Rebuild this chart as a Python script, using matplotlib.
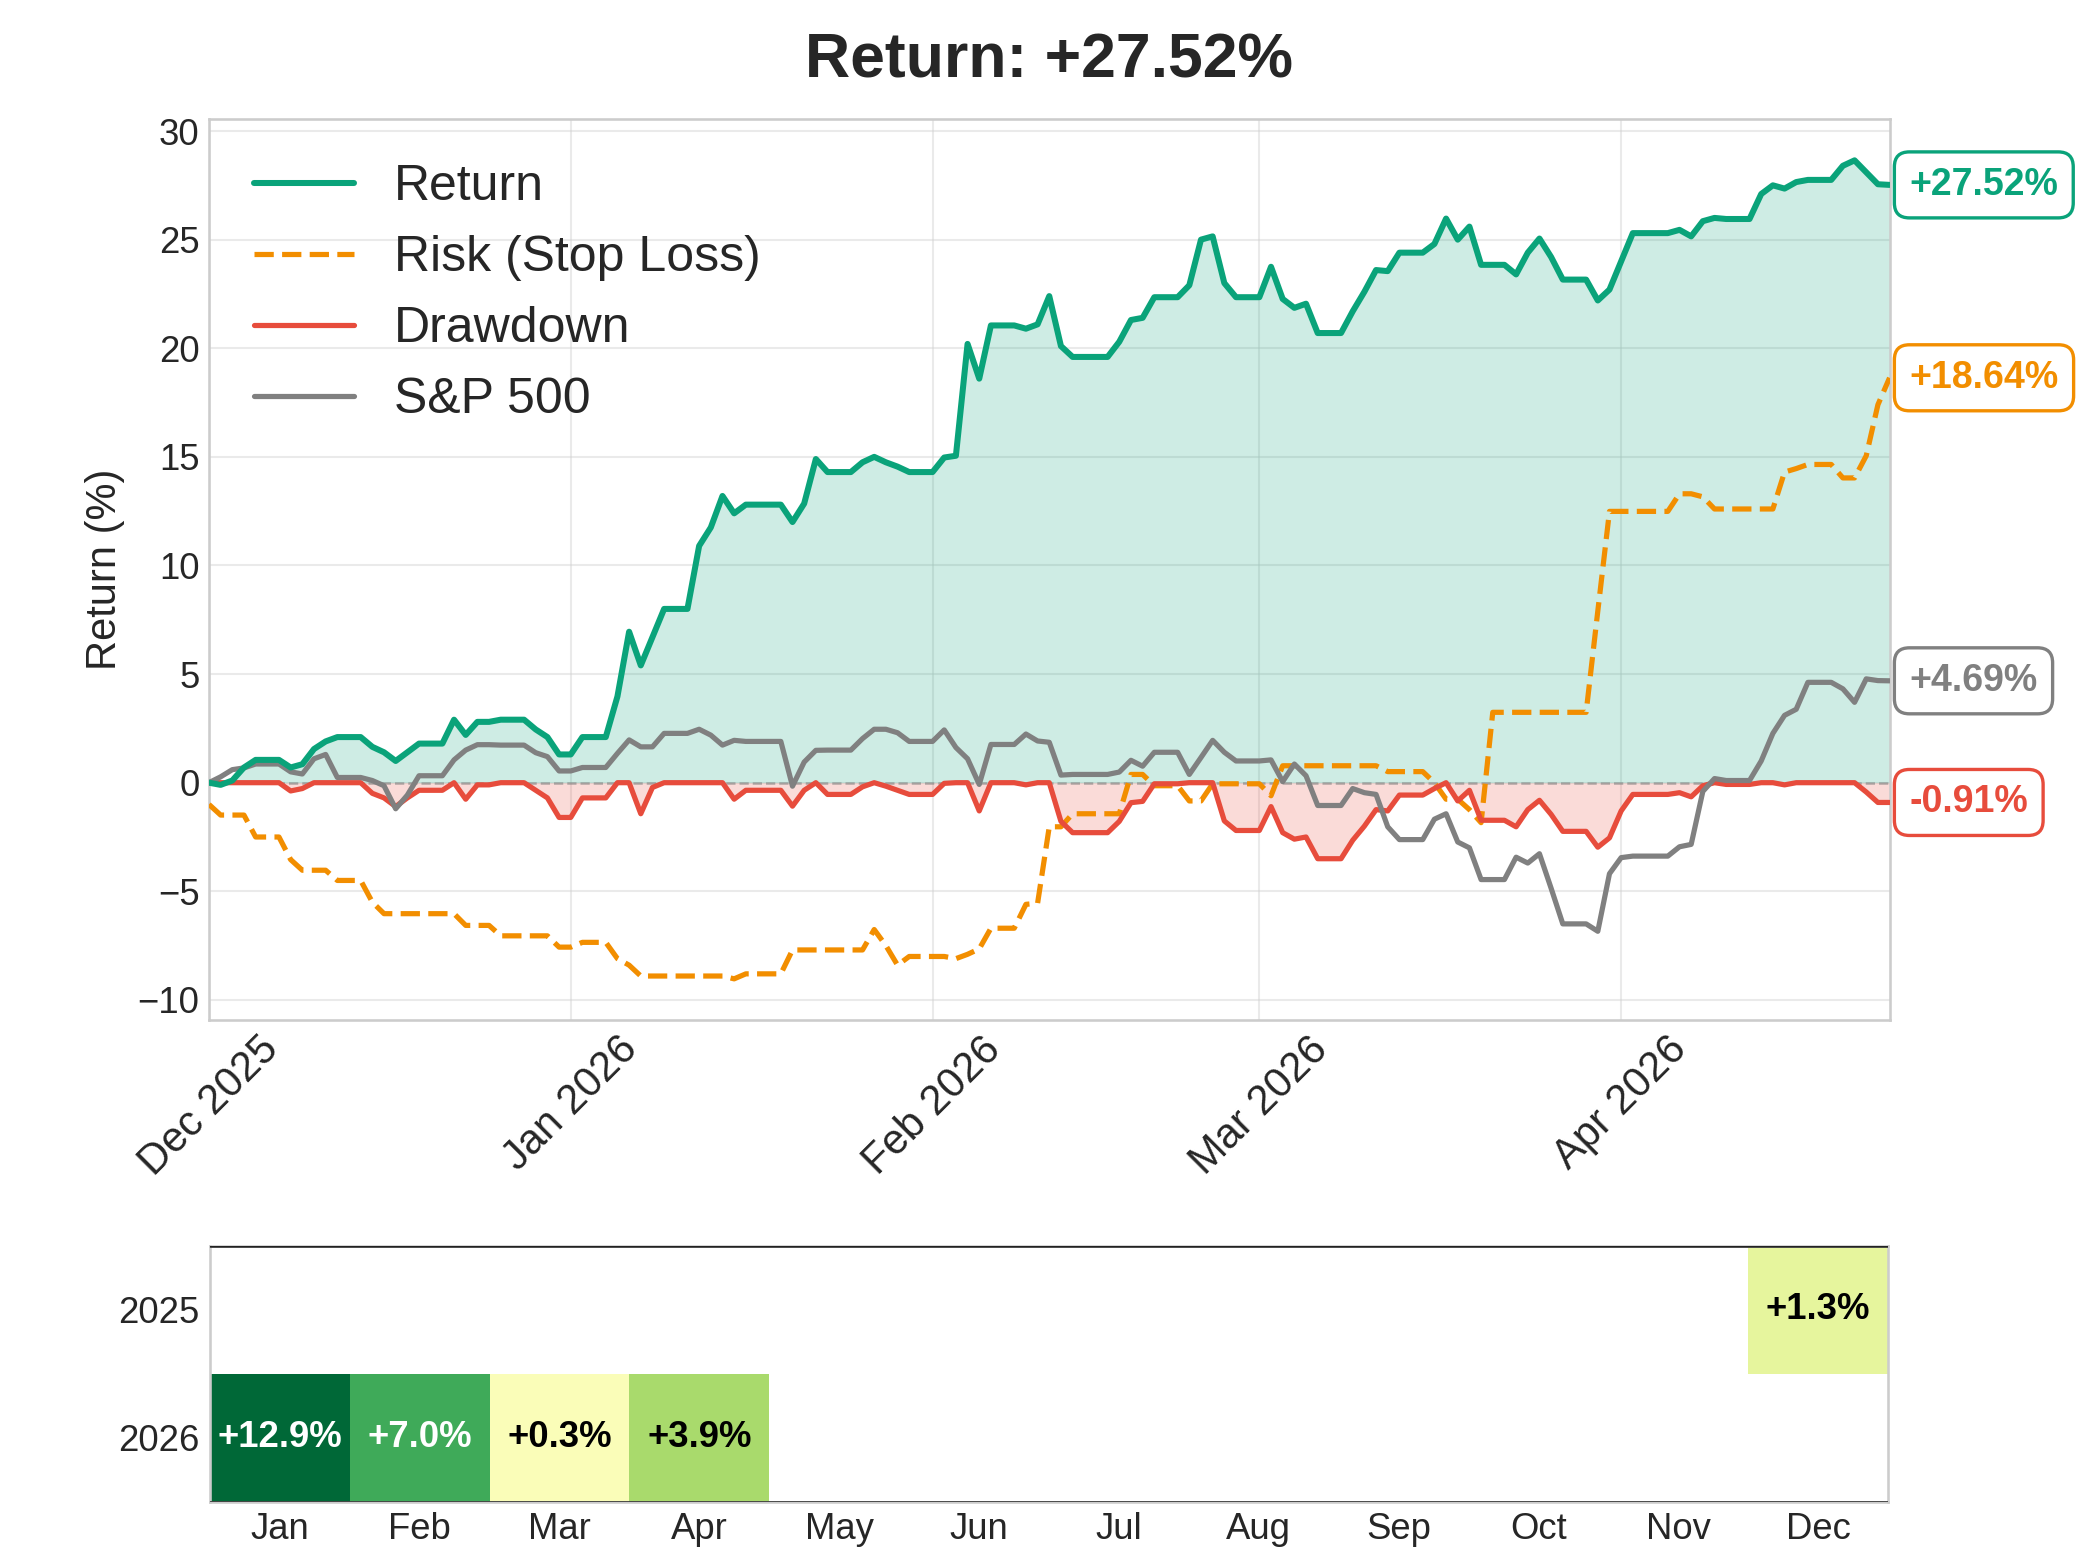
import numpy as np
import pandas as pd
import matplotlib
matplotlib.use("Agg")
import matplotlib.pyplot as plt
import matplotlib.dates as mdates
from matplotlib.ticker import MultipleLocator
import seaborn as sns

sns.set_style("whitegrid")
plt.rcParams["font.family"] = ["Liberation Sans", "DejaVu Sans"]

# ---------------- data ----------------
start_date = "2025-12-01"
end_date = "2026-04-24"

strategy_return = [
    0.0, -0.1, 0.1, 0.7, 1.05, 1.05, 1.05, 0.7, 0.85, 1.55, 1.9, 2.1, 2.1, 2.1, 1.65, 1.4,
    1.0, 1.4, 1.8, 1.8, 1.8, 2.9, 2.2, 2.8, 2.8, 2.9, 2.9, 2.9, 2.45, 2.1, 1.3,
    1.3, 2.1, 2.1, 2.1, 3.97, 6.95, 5.4, 6.7, 8.0, 8.0, 8.0, 10.9, 11.75, 13.2, 12.4, 12.8,
    12.8, 12.8, 12.8, 12.0, 12.85, 14.9, 14.3, 14.3, 14.3, 14.75, 15.0, 14.75, 14.55, 14.3, 14.3,
    14.3, 14.97, 15.05, 20.2, 18.6, 21.05, 21.05, 21.05, 20.9, 21.1, 22.4, 20.1, 19.6, 19.6,
    19.6, 19.6, 20.3, 21.3, 21.4, 22.35, 22.35, 22.35, 22.9, 25.0, 25.15, 23.0, 22.35, 22.35,
    22.35, 23.75, 22.27, 21.86, 22.05, 20.7, 20.7, 20.7, 21.7, 22.6, 23.6, 23.55, 24.4, 24.4,
    24.4, 24.8, 25.97, 25.0, 25.6, 23.84, 23.84, 23.84, 23.4, 24.4, 25.05, 24.2, 23.16, 23.16,
    23.16, 22.2, 22.7,
    24.0, 25.3, 25.3, 25.3, 25.3, 25.45, 25.15, 25.85, 26.0, 25.95, 25.95, 25.95, 27.1, 27.5,
    27.35, 27.65, 27.75, 27.75, 27.75, 28.4, 28.65, 28.1, 27.55, 27.52,
]

risk_stop_loss = [
    -1.0, -1.49, -1.49, -1.49, -2.5, -2.5, -2.5, -3.54, -4.03, -4.03, -4.03, -4.5, -4.5, -4.5,
    -5.5, -6.03, -6.03, -6.03, -6.03, -6.03, -6.03, -6.03, -6.57, -6.57, -6.57, -7.05, -7.05,
    -7.05, -7.05, -7.05, -7.57,
    -7.57, -7.35, -7.35, -7.35, -8.1, -8.4, -8.9, -8.9, -8.9, -8.9, -8.9, -8.9, -8.9, -8.9,
    -9.03, -8.8, -8.8, -8.8, -8.8, -7.7, -7.7, -7.7, -7.7, -7.7, -7.7, -7.7, -6.76, -7.5, -8.4,
    -8.0, -8.0,
    -8.0, -8.0, -8.1, -7.9, -7.65, -6.7, -6.7, -6.7, -5.6, -5.55, -2.03, -2.03, -1.43, -1.43,
    -1.43, -1.43, -1.43, 0.38, 0.38, -0.14, -0.14, -0.14, -0.84, -0.84, -0.05, -0.05, -0.05,
    -0.05,
    -0.05, -0.6, 0.78, 0.78, 0.78, 0.78, 0.78, 0.78, 0.78, 0.78, 0.78, 0.51, 0.51, 0.51, 0.51,
    0.0, -0.76, -0.76, -1.24, -1.84, 3.24, 3.24, 3.24, 3.24, 3.24, 3.24, 3.24, 3.24, 3.24, 7.9,
    12.49,
    12.49, 12.49, 12.49, 12.49, 12.49, 13.3, 13.3, 13.16, 12.6, 12.6, 12.6, 12.6, 12.6, 12.6,
    14.3, 14.46, 14.65, 14.65, 14.65, 14.03, 14.03, 15.05, 17.4, 18.64,
]

drawdown = [
    0.0, 0.0, 0.0, 0.0, 0.0, 0.0, 0.0, -0.38, -0.27, 0.0, 0.0, 0.0, 0.0, 0.0, -0.49, -0.7,
    -1.1, -0.7, -0.35, -0.35, -0.35, 0.0, -0.76, -0.1, -0.1, 0.0, 0.0, 0.0, -0.35, -0.7, -1.6,
    -1.6, -0.7, -0.7, -0.7, 0.0, 0.0, -1.43, -0.22, 0.0, 0.0, 0.0, 0.0, 0.0, 0.0, -0.76, -0.35,
    -0.35, -0.35, -0.35, -1.08, -0.35, 0.0, -0.54, -0.54, -0.54, -0.19, 0.0, -0.16, -0.35,
    -0.54, -0.54,
    -0.54, -0.03, 0.0, 0.0, -1.3, 0.0, 0.0, 0.0, -0.1, 0.0, 0.0, -1.78, -2.3, -2.3, -2.3, -2.3,
    -1.78, -0.92, -0.86, -0.05, -0.05, -0.05, 0.0, 0.0, 0.0, -1.76, -2.2, -2.2,
    -2.2, -1.1, -2.3, -2.6, -2.5, -3.5, -3.5, -3.5, -2.65, -2.0, -1.24, -1.3, -0.57, -0.57,
    -0.57, -0.27, 0.0, -0.84, -0.35, -1.73, -1.73, -1.73, -2.03, -1.24, -0.81, -1.46, -2.24,
    -2.24, -2.24, -2.97, -2.54,
    -1.3, -0.54, -0.54, -0.54, -0.54, -0.46, -0.65, -0.14, 0.0, -0.08, -0.08, -0.08, 0.0, 0.0,
    -0.1, 0.0, 0.0, 0.0, 0.0, 0.0, 0.0, -0.43, -0.91, -0.91,
]

sp500 = [
    0.0, 0.27, 0.6, 0.68, 0.86, 0.86, 0.86, 0.5, 0.4, 1.1, 1.3, 0.24, 0.24, 0.24, 0.1, -0.14,
    -1.2, -0.57, 0.32, 0.32, 0.32, 1.05, 1.5, 1.75, 1.75, 1.73, 1.73, 1.73, 1.38, 1.2, 0.54,
    0.54, 0.7, 0.7, 0.7, 1.35, 1.97, 1.65, 1.65, 2.27, 2.27, 2.27, 2.46, 2.19, 1.73, 1.95, 1.9,
    1.9, 1.9, 1.9, -0.16, 0.95, 1.49, 1.5, 1.5, 1.5, 2.03, 2.46, 2.46, 2.3, 1.9, 1.9,
    1.9, 2.43, 1.62, 1.1, -0.08, 1.76, 1.76, 1.76, 2.24, 1.92, 1.86, 0.35, 0.38, 0.38, 0.38,
    0.38, 0.49, 1.03, 0.76, 1.4, 1.4, 1.4, 0.38, 1.16, 1.95, 1.4, 1.0, 1.0,
    1.0, 1.05, 0.05, 0.86, 0.32, -1.05, -1.05, -1.05, -0.27, -0.46, -0.54, -2.03, -2.62, -2.62,
    -2.62, -1.68, -1.43, -2.73, -3.0, -4.46, -4.46, -4.46, -3.43, -3.7, -3.27, -4.86, -6.5,
    -6.5, -6.5, -6.84, -4.19,
    -3.45, -3.38, -3.38, -3.38, -3.38, -2.95, -2.84, -0.4, 0.19, 0.1, 0.1, 0.1, 1.0, 2.27, 3.1,
    3.38, 4.62, 4.62, 4.62, 4.32, 3.7, 4.78, 4.7, 4.69,
]

heatmap_years = ["2025", "2026"]
heatmap_months = ["Jan", "Feb", "Mar", "Apr", "May", "Jun",
                  "Jul", "Aug", "Sep", "Oct", "Nov", "Dec"]
monthly_2025 = [np.nan] * 11 + [1.3]
monthly_2026 = [12.9, 7.0, 0.3, 3.9] + [np.nan] * 8

# ---------------- style ----------------
GREEN = "#0aa37a"
ORANGE = "#f28e00"
RED = "#e74c3c"
GREY = "#808080"
TXT = "#262626"

dates = pd.date_range(start_date, end_date, freq="D")
assert len(dates) == len(strategy_return) == len(risk_stop_loss) == len(drawdown) == len(sp500)

fig = plt.figure(figsize=(14, 1555 / 150), dpi=150)
ax = fig.add_axes([0.0995, 0.3442, 0.8003, 0.5790])
hax = fig.add_axes([0.1, 0.0343, 0.7990, 0.1646])

# ---------------- main chart ----------------
ax.fill_between(dates, strategy_return, 0, color=GREEN, alpha=0.2, lw=0, zorder=1)
ax.fill_between(dates, drawdown, 0, color=RED, alpha=0.2, lw=0, zorder=1)
ax.plot(dates, strategy_return, color=GREEN, lw=2.9, label="Return", zorder=4)
ax.plot(dates, risk_stop_loss, color=ORANGE, lw=2.5, ls="--", label="Risk (Stop Loss)", zorder=3)
ax.plot(dates, drawdown, color=RED, lw=2.5, label="Drawdown", zorder=3)
ax.plot(dates, sp500, color=GREY, lw=2.5, label="S&P 500", zorder=3)
ax.axhline(0, color="gray", ls="--", lw=1.2, alpha=0.6, zorder=2)

ax.set_xlim(dates[0], dates[-1])
ax.xaxis.set_major_locator(mdates.MonthLocator())
ax.xaxis.set_major_formatter(mdates.DateFormatter("%b %Y"))
ax.yaxis.set_major_locator(MultipleLocator(5))
ax.tick_params(axis="y", labelsize=17.5, colors=TXT, length=0, pad=4.5)
ax.tick_params(axis="x", labelsize=20, colors=TXT, length=0, pad=4.5)
for lbl in ax.get_xticklabels():
    lbl.set_rotation(45)
    lbl.set_ha("center")
ax.set_ylabel("Return (%)", fontsize=20, color=TXT, labelpad=6)
ax.grid(True, color="#cccccc", alpha=0.4, lw=1.0)
for sp in ax.spines.values():
    sp.set_color("#cccccc")
    sp.set_linewidth(1.25)

ax.legend(loc="upper left", fontsize=24, frameon=False)
ax.set_title(f"Return: {strategy_return[-1]:+.2f}%", fontsize=30, fontweight="bold",
             color=TXT, pad=20)

for vals, col in [(strategy_return, GREEN), (risk_stop_loss, ORANGE),
                  (sp500, GREY), (drawdown, RED)]:
    ax.annotate(f"{vals[-1]:+.2f}%", xy=(dates[-1], vals[-1]), xytext=(9.5, 0),
                textcoords="offset points", ha="left", va="center", fontsize=18,
                fontweight="bold", color=col, annotation_clip=False, zorder=6,
                bbox=dict(boxstyle="round,pad=0.4", fc="white", ec=col, lw=1.6))

# ---------------- monthly heatmap ----------------
hdata = np.array([monthly_2025, monthly_2026], dtype=float)
hax.pcolormesh(np.ma.masked_invalid(hdata), cmap="RdYlGn", vmin=-10, vmax=10)
hax.set_xlim(0, 12)
hax.set_ylim(2, 0)
hax.set_xticks(np.arange(12) + 0.5)
hax.set_xticklabels(heatmap_months)
hax.set_yticks([0.5, 1.5])
hax.set_yticklabels(heatmap_years)
hax.tick_params(axis="both", labelsize=17.5, colors=TXT, length=0, pad=5)
hax.grid(False)
for sp in hax.spines.values():
    sp.set_color("#cccccc")
    sp.set_linewidth(1.25)
hax.axhline(0.0, color="#222222", lw=1.2, zorder=5)
hax.axhline(2.0, color="#222222", lw=1.2, zorder=5)
for r in range(hdata.shape[0]):
    for c in range(hdata.shape[1]):
        v = hdata[r, c]
        if np.isnan(v):
            continue
        hax.text(c + 0.5, r + 0.5, f"{v:+.1f}%", ha="center", va="center",
                 fontsize=17.5, fontweight="bold",
                 color="white" if abs(v) > 5 else "black")

fig.savefig("out.png", dpi=150)
